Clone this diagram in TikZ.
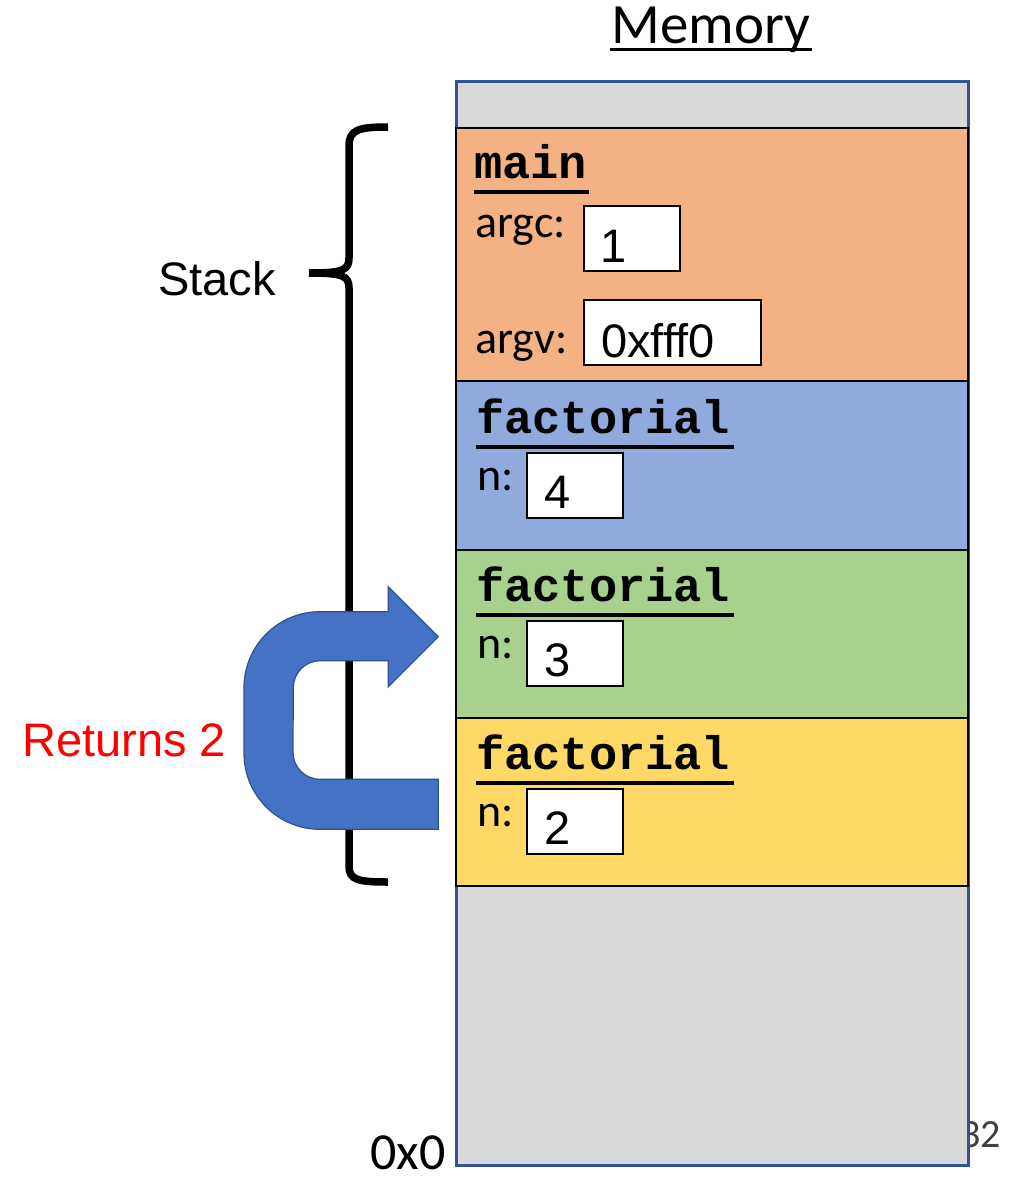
\documentclass[tikz,border=0pt]{standalone}
\usepackage{fontspec}
\setmainfont{Liberation Sans}
\newfontfamily\calib{Carlito}
\newfontfamily\cmono{Liberation Mono}
\definecolor{memgray}{HTML}{D9D9D9}
\definecolor{memblue}{HTML}{2F5597}
\definecolor{mainor}{HTML}{F4B183}
\definecolor{fblue}{HTML}{8FAADC}
\definecolor{fgreen}{HTML}{A9D18E}
\definecolor{fyellow}{HTML}{FFD966}
\definecolor{arrfill}{HTML}{4472C4}
\definecolor{arrline}{HTML}{2F528F}
\definecolor{pgnum}{HTML}{404040}
\begin{document}
\begin{tikzpicture}[x=1pt,y=-1pt,
  txt/.style={inner sep=0pt,anchor=base west},
  frame/.style={draw=black,line width=1.5pt,inner sep=0pt,anchor=north west,minimum width=512pt},
  valbox/.style={draw=black,fill=white,line width=1.5pt,inner sep=0pt,anchor=north west},
  fname/.style={txt,font=\fontsize{47}{56}\selectfont\cmono\bfseries},
  lbl/.style={txt,font=\fontsize{46}{55}\selectfont\calib},
  val/.style={txt,font=\fontsize{47}{56}\selectfont},
  uline/.style={line width=4pt}
]
\useasboundingbox (0,0) rectangle (1014,1181);

% page number (behind memory)
\node[txt,anchor=base east,text=pgnum,font=\fontsize{40}{48}\selectfont\calib] (pg) at (1001,1147) {32};

% memory column
\node[draw=memblue,fill=memgray,line width=2.5pt,inner sep=0pt,anchor=north west,minimum width=512pt,minimum height=1084pt] (mem) at (455,80) {};

% title
\node[txt,anchor=base,font=\fontsize{57}{66}\selectfont\calib] (title) at (711,43) {Memory};
\draw[line width=3pt] ([xshift=-1pt,yshift=-6pt]title.base west) -- ([xshift=1pt,yshift=-6pt]title.base east);

% 0x0
\node[txt,anchor=base east,font=\fontsize{52}{60}\selectfont\calib] (zero) at (446,1169) {0x0};

% frames
\node[frame,fill=mainor,minimum height=253pt] (fmain) at (455,127) {};
\node[frame,fill=fblue,minimum height=169pt] (fa) at (455,380) {};
\node[frame,fill=fgreen,minimum height=168pt] (fb) at (455,549) {};
\node[frame,fill=fyellow,minimum height=168pt] (fc) at (455,717) {};

% main frame content
\node[fname] (tmain) at (474,178) {main};
\draw[uline] ([yshift=-14pt]tmain.base west) -- ([xshift=2pt,yshift=-14pt]tmain.base east);
\node[lbl] (largc) at (475,237) {argc:};
\node[valbox,minimum width=96pt,minimum height=65pt] (bargc) at (583,205) {};
\node[val] (vargc) at (600,262) {1};
\node[lbl] (largv) at (475,353) {argv:};
\node[valbox,minimum width=177pt,minimum height=65pt] (bargv) at (583,299) {};
\node[val] (vargv) at (601,357) {0xfff0};

% factorial frames
\node[fname] (ta) at (476,433) {factorial};
\draw[uline] ([yshift=-14pt]ta.base west) -- ([xshift=4pt,yshift=-14pt]ta.base east);
\node[lbl] (na) at (477,490) {n:};
\node[valbox,minimum width=96pt,minimum height=65pt] (ba) at (526,452) {};
\node[val] (va) at (544,508) {4};

\node[fname] (tb) at (476,601) {factorial};
\draw[uline] ([yshift=-14pt]tb.base west) -- ([xshift=4pt,yshift=-14pt]tb.base east);
\node[lbl] (nb) at (477,658) {n:};
\node[valbox,minimum width=96pt,minimum height=65pt] (bb) at (526,620) {};
\node[val] (vb) at (544,676) {3};

\node[fname] (tc) at (476,769) {factorial};
\draw[uline] ([yshift=-14pt]tc.base west) -- ([xshift=4pt,yshift=-14pt]tc.base east);
\node[lbl] (nc) at (477,826) {n:};
\node[valbox,minimum width=96pt,minimum height=65pt] (bc) at (526,788) {};
\node[val] (vc) at (544,844) {2};

% brace
\draw[line width=7.5pt]
  (388,127) .. controls (358,127) and (349,130) .. (349,146)
  -- (349,258) .. controls (349,270) and (343,273) .. (309,273)
  (309,273) .. controls (343,273) and (349,276) .. (349,288)
  -- (349,866) .. controls (349,880) and (358,882) .. (388,882);
\node[val,anchor=base east] (stack) at (276,295) {Stack};

% return arrow
\draw[fill=arrfill,draw=arrline,line width=1.2pt]
  (438.3,779.3) -- (320,779.3) arc[start angle=90,end angle=180,radius=27]
  -- (293.3,687.7) arc[start angle=180,end angle=270,radius=27]
  -- (388.3,660.7) -- (388.3,686.7) -- (438.3,636.7) -- (388.3,586.7) -- (388.3,611.7)
  -- (320,611.7) arc[start angle=270,end angle=180,radius=76]
  -- (244,753.3) arc[start angle=180,end angle=90,radius=76]
  -- (438.3,829.3) -- cycle;
\node[val,text=red] (ret) at (22,756) {Returns 2};
\end{tikzpicture}
\end{document}
